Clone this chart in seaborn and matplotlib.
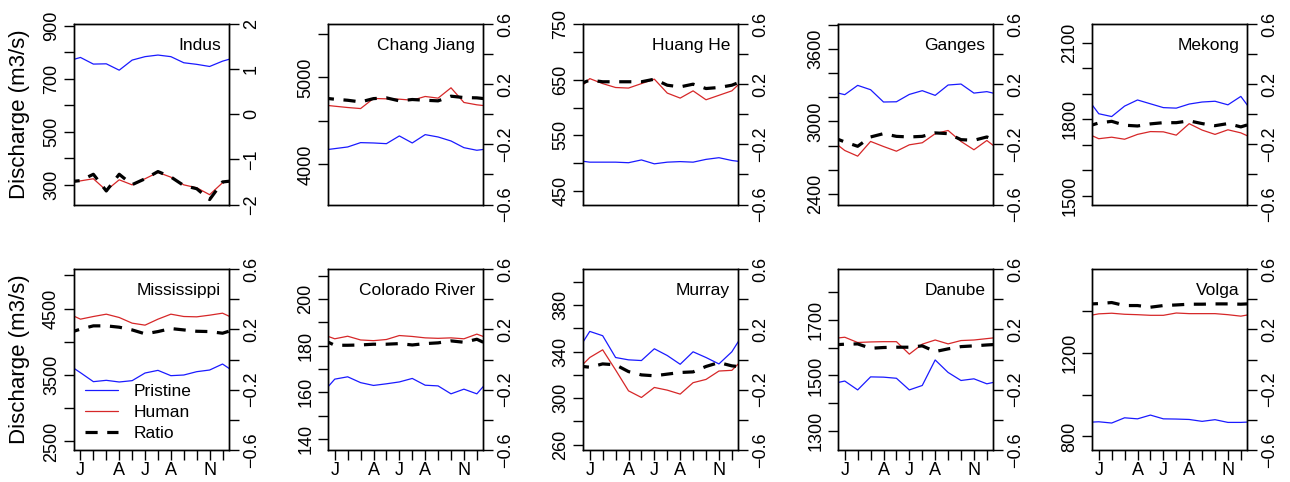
import numpy as np
import pandas as pd
import matplotlib
matplotlib.use("Agg")
import matplotlib.pyplot as plt
import seaborn as sns
from matplotlib.lines import Line2D

# month labels (only some are printed, like the original R axis)
months = ["J", "F", "M", "A", "M", "J", "J", "A", "S", "O", "N", "D"]
shown_months = [1, 4, 6, 8, 11]

# monthly mean discharge (m3/s) and ratio
indus_pristine = [780, 755, 756, 732, 770, 783, 789, 783, 760, 754, 746, 766]
indus_human = [315, 323, 279, 319, 300, 323, 347, 329, 300, 289, 263, 308]
indus_ratio = [-1.47, -1.33, -1.70, -1.33, -1.56, -1.43, -1.27, -1.39, -1.58, -1.65, -1.89, -1.50]

chang_pristine = [4181, 4200, 4250, 4246, 4238, 4327, 4246, 4342, 4315, 4269, 4192, 4162]
chang_human = [4669, 4654, 4642, 4758, 4754, 4750, 4738, 4781, 4762, 4881, 4712, 4685]
chang_ratio = [0.100, 0.093, 0.082, 0.104, 0.109, 0.089, 0.098, 0.093, 0.089, 0.120, 0.111, 0.109]

huang_pristine = [502, 502, 502, 501, 506, 499, 502, 503, 502, 507, 510, 505]
huang_human = [652, 643, 636, 635, 643, 651, 626, 617, 630, 614, 622, 630]
huang_ratio = [0.227, 0.216, 0.216, 0.216, 0.216, 0.233, 0.193, 0.182, 0.200, 0.171, 0.178, 0.193]

ganges_pristine = [3222, 3299, 3263, 3161, 3163, 3224, 3255, 3216, 3302, 3310, 3235, 3247]
ganges_human = [2759, 2712, 2834, 2792, 2753, 2806, 2823, 2898, 2925, 2834, 2765, 2842]
ganges_ratio = [-0.184, -0.213, -0.151, -0.129, -0.147, -0.151, -0.147, -0.124, -0.129, -0.169, -0.173, -0.151]

mekong_pristine = [1821, 1810, 1851, 1875, 1860, 1845, 1843, 1859, 1867, 1870, 1856, 1889]
mekong_human = [1723, 1729, 1721, 1740, 1751, 1750, 1737, 1782, 1757, 1740, 1758, 1746]
mekong_ratio = [-0.058, -0.047, -0.073, -0.078, -0.064, -0.056, -0.056, -0.044, -0.062, -0.076, -0.062, -0.084]

miss_pristine = [3535, 3400, 3420, 3395, 3415, 3530, 3570, 3490, 3500, 3550, 3575, 3665]
miss_human = [4340, 4380, 4415, 4365, 4280, 4250, 4340, 4415, 4380, 4375, 4400, 4430]
miss_ratio = [0.202, 0.224, 0.224, 0.215, 0.197, 0.171, 0.186, 0.206, 0.197, 0.188, 0.186, 0.175]

colorado_pristine = [165.6, 166.6, 164.1, 162.9, 163.6, 164.4, 165.9, 163.0, 162.7, 159.3, 161.3, 159.3]
colorado_human = [182.9, 184.0, 182.4, 182.1, 182.6, 184.3, 183.9, 183.3, 183.1, 183.3, 182.9, 184.9]
colorado_ratio = [0.095, 0.095, 0.097, 0.102, 0.102, 0.106, 0.097, 0.106, 0.111, 0.124, 0.115, 0.135]

murray_pristine = [357.3, 353.6, 334.9, 332.9, 332.3, 342.4, 336.6, 329.1, 339.8, 334.9, 329.4, 339.8]
murray_human = [334.9, 341.5, 324.2, 306.3, 300.6, 309.2, 306.9, 303.5, 313.3, 316.1, 323.3, 323.9]
murray_ratio = [-0.051, -0.029, -0.035, -0.080, -0.102, -0.108, -0.097, -0.086, -0.082, -0.046, -0.020, -0.042]

danube_pristine = [1480, 1448, 1495, 1494, 1490, 1448, 1464, 1556, 1511, 1482, 1488, 1470]
danube_human = [1638, 1619, 1621, 1622, 1622, 1577, 1613, 1628, 1614, 1626, 1628, 1633]
danube_ratio = [0.102, 0.104, 0.075, 0.080, 0.082, 0.082, 0.091, 0.053, 0.071, 0.086, 0.091, 0.097]

volga_pristine = [870, 864, 889, 884, 902, 884, 883, 881, 872, 880, 867, 867]
volga_human = [1386, 1389, 1384, 1382, 1379, 1379, 1390, 1387, 1387, 1387, 1382, 1375]
volga_ratio = [0.372, 0.379, 0.359, 0.359, 0.348, 0.359, 0.363, 0.368, 0.368, 0.370, 0.370, 0.368]

# name, data, left ylim, left ticks (start, stop, step), labelled ticks, right ylim
panels = [
    ("Indus", indus_pristine, indus_human, indus_ratio, (226, 906), (300, 900, 100), [300, 500, 700, 900], (-2, 2)),
    ("Chang Jiang", chang_pristine, chang_human, chang_ratio, (3538, 5615), (4000, 5500, 500), [4000, 5000], (-0.6, 0.6)),
    ("Huang He", huang_pristine, huang_human, huang_ratio, (426, 750), (450, 750, 50), [450, 550, 650, 750], (-0.6, 0.6)),
    ("Ganges", ganges_pristine, ganges_human, ganges_ratio, (2311, 3808), (2400, 3800, 200), [2400, 3000, 3600], (-0.6, 0.6)),
    ("Mekong", mekong_pristine, mekong_human, mekong_ratio, (1465, 2173), (1500, 2100, 100), [1500, 1800, 2100], (-0.6, 0.6)),
    ("Mississippi", miss_pristine, miss_human, miss_ratio, (2375, 5090), (2500, 5000, 500), [2500, 3500, 4500], (-0.6, 0.6)),
    ("Colorado River", colorado_pristine, colorado_human, colorado_ratio, (135.3, 212.7), (140, 210, 10), [140, 160, 180, 200], (-0.6, 0.6)),
    ("Murray", murray_pristine, murray_human, murray_ratio, (255.7, 410.6), (260, 400, 20), [260, 300, 340, 380], (-0.6, 0.6)),
    ("Danube", danube_pristine, danube_human, danube_ratio, (1232, 1883), (1300, 1800, 100), [1300, 1500, 1700], (-0.6, 0.6)),
    ("Volga", volga_pristine, volga_human, volga_ratio, (736, 1599), (800, 1400, 200), [800, 1200], (-0.6, 0.6)),
]

sns.set_theme(style="white")
plt.rcParams["font.family"] = ["Liberation Sans", "DejaVu Sans"]
plt.rcParams["axes.unicode_minus"] = True
plt.rcParams["text.color"] = "black"

BLUE = "#1a1aff"
RED = "#d62728"
DASH = (3.8, 3.0)
TICK_FS = 13

W, H = 1290, 482
col_left = [74, 328.3, 583.3, 838.3, 1092.3]
row_top = [24, 269.3]
box_w, box_h = 155, 180.5


def wrap(v):
    # repeat Dec before Jan and Jan after Dec so the line runs to the box edges
    return np.concatenate([v[-1:], v, v[:1]])


def fmt(t):
    s = f"{t:g}"
    return s.replace("-", "\u2212")


fig = plt.figure(figsize=(W / 100, H / 100), dpi=100)

for i, (name, pris, hum, rat, ylim, tk, lab, rlim) in enumerate(panels):
    row, col = divmod(i, 5)
    x0 = col_left[col] / W
    y0 = 1 - (row_top[row] + box_h) / H
    ax = fig.add_axes([x0, y0, box_w / W, box_h / H])
    ax2 = ax.twinx()

    df = pd.DataFrame({
        "month": np.arange(0, 14),
        "Pristine": wrap(np.array(pris, dtype=float)),
        "Human": wrap(np.array(hum, dtype=float)),
        "Ratio": wrap(np.array(rat, dtype=float)),
    })
    sns.lineplot(data=df, x="month", y="Pristine", ax=ax, color=BLUE, lw=0.9)
    sns.lineplot(data=df, x="month", y="Human", ax=ax, color=RED, lw=0.9)
    sns.lineplot(data=df, x="month", y="Ratio", ax=ax2, color="black", lw=2.3)
    ax2.lines[-1].set_dashes(DASH)

    ax.set_xlim(0.5, 12.5)
    ax.set_ylim(*ylim)
    ax2.set_ylim(*rlim)
    ax.set_xlabel("")
    ax.set_ylabel("")
    ax2.set_ylabel("")

    ticks = np.arange(tk[0], tk[1] + tk[2] / 2, tk[2])
    ax.set_yticks(ticks)
    ax.set_yticklabels([fmt(t) if any(abs(t - l) < 1e-6 for l in lab) else "" for t in ticks])
    if rlim[1] == 2:
        rticks = [-2, -1, 0, 1, 2]
        rlab = [fmt(t) for t in rticks]
    else:
        rticks = [-0.6, -0.4, -0.2, 0.0, 0.2, 0.4, 0.6]
        rlab = [fmt(t) if k % 2 == 0 else "" for k, t in enumerate(rticks)]
    ax2.set_yticks(rticks)
    ax2.set_yticklabels(rlab)

    ax.tick_params(axis="y", left=True, direction="out", length=7, width=1,
                   color="black", labelsize=TICK_FS, pad=3, labelrotation=90, labelcolor="black")
    ax2.tick_params(axis="y", right=True, left=False, direction="out", length=7, width=1,
                    color="black", labelsize=TICK_FS, pad=3, labelrotation=90, labelcolor="black")
    for lbl in ax.get_yticklabels() + ax2.get_yticklabels():
        lbl.set_verticalalignment("center")

    if row == 1:
        ax.set_xticks(range(1, 13))
        ax.set_xticklabels([m if k + 1 in shown_months else "" for k, m in enumerate(months)])
        ax.tick_params(axis="x", bottom=True, direction="out", length=7, width=1,
                       color="black", labelsize=TICK_FS, pad=2, labelcolor="black")
    else:
        ax.set_xticks([])

    for a in (ax, ax2):
        for sp in a.spines.values():
            sp.set_color("black")
            sp.set_linewidth(1.0)

    ax2.text(0.948, 0.883, name, transform=ax2.transAxes, ha="right", va="center",
             fontsize=12.5, color="black")

    if col == 0:
        ax.set_ylabel("Discharge (m3/s)", fontsize=16, color="black")
        ax.yaxis.set_label_coords(-0.284, 0.5)

    if name == "Mississippi":
        handles = [
            Line2D([], [], color=BLUE, lw=0.9),
            Line2D([], [], color=RED, lw=0.9),
            Line2D([], [], color="black", lw=2.3, dashes=DASH),
        ]
        ax2.legend(handles, ["Pristine", "Human", "Ratio"], loc="lower left",
                   bbox_to_anchor=(0.07, 0.05), frameon=False, fontsize=12.5,
                   handlelength=1.9, handletextpad=0.9, labelspacing=0.34,
                   borderpad=0, borderaxespad=0, labelcolor="black")

fig.savefig("out.png", dpi=100)
